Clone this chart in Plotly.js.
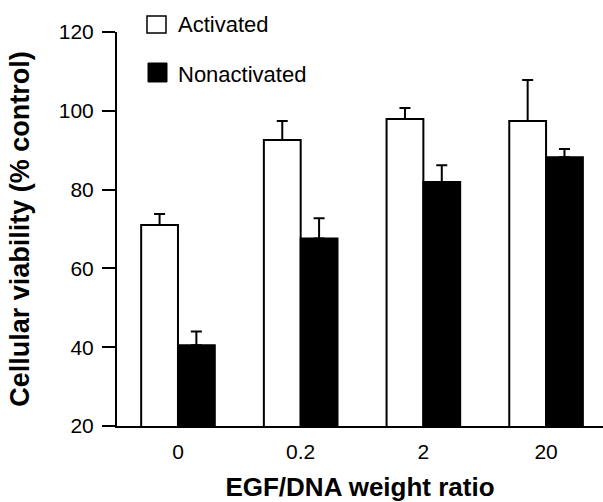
<!DOCTYPE html>
<html>
<head>
<meta charset="utf-8">
<script src="https://cdn.plot.ly/plotly-3.0.1.min.js"></script>
<style>html,body{margin:0;padding:0;background:#fff;}#chart{width:603px;height:502px;}</style>
</head>
<body>
<div id="chart"></div>
<script>
var categories = ["0", "0.2", "2", "20"];
var activated = [71.0, 92.6, 97.9, 97.4];
var activatedErr = [2.8, 4.8, 2.8, 10.4];
var nonactivated = [40.5, 67.6, 81.9, 88.2];
var nonactivatedErr = [3.5, 5.1, 4.3, 2.1];
var yTicks = [20, 40, 60, 80, 100, 120];
var legendNames = ["Activated", "Nonactivated"];

var FONT = "Arial, 'Liberation Sans', Helvetica, sans-serif";

var traces = [
  {
    type: "bar", name: legendNames[0], x: categories, y: activated,
    marker: {color: "#ffffff", line: {color: "#000000", width: 2}},
    error_y: {type: "data", array: activatedErr, arrayminus: activatedErr.map(function(){return 0;}), symmetric: false, color: "#000000", thickness: 2, width: 5.5},
    hoverinfo: "skip"
  },
  {
    type: "bar", name: legendNames[1], x: categories, y: nonactivated,
    marker: {color: "#000000", line: {color: "#000000", width: 2}},
    error_y: {type: "data", array: nonactivatedErr, arrayminus: nonactivatedErr.map(function(){return 0;}), symmetric: false, color: "#000000", thickness: 2, width: 5.5},
    hoverinfo: "skip"
  }
];

var layout = {
  width: 603, height: 502,
  margin: {l: 117, r: 0, t: 32, b: 76, pad: 0},
  paper_bgcolor: "#ffffff", plot_bgcolor: "#ffffff",
  font: {family: FONT, color: "#000000"},
  showlegend: false,
  barmode: "group", bargap: 0.4, bargroupgap: 0,
  xaxis: {
    type: "category", range: [-0.497, 3.464],
    showline: true, linecolor: "#000000", linewidth: 2,
    ticks: "", showgrid: false, zeroline: false,
    tickfont: {size: 21, family: FONT, color: "#000000"},
    ticklabelstandoff: 6,
    title: {text: "<b>EGF/DNA weight ratio</b>", font: {size: 26, family: FONT, color: "#000000"}, standoff: 16},
    automargin: false, fixedrange: true
  },
  yaxis: {
    range: [20, 120], tickvals: yTicks, ticktext: yTicks.map(String),
    showline: true, linecolor: "#000000", linewidth: 2,
    ticks: "outside", ticklen: 13, tickwidth: 2, tickcolor: "#000000",
    ticklabelstandoff: 4,
    showgrid: false, zeroline: false,
    tickfont: {size: 21, family: FONT, color: "#000000"},
    title: {text: "<b>Cellular viability (% control)</b>", font: {size: 27, family: FONT, color: "#000000"}, standoff: 21},
    automargin: false, fixedrange: true
  },
  shapes: [
    {type: "rect", xref: "paper", yref: "paper", x0: 0.0617, x1: 0.1008, y0: 0.9975, y1: 1.0406, line: {color: "#000000", width: 1.5}, fillcolor: "#ffffff"},
    {type: "rect", xref: "paper", yref: "paper", x0: 0.0638, x1: 0.1029, y0: 0.8731, y1: 0.9213, line: {color: "#000000", width: 1}, fillcolor: "#000000"}
  ],
  annotations: [
    {xref: "paper", yref: "paper", x: 0.1214, y: 1.019, xanchor: "left", yanchor: "middle", text: legendNames[0], showarrow: false, font: {size: 22, family: FONT, color: "#000000"}},
    {xref: "paper", yref: "paper", x: 0.1214, y: 0.8934, xanchor: "left", yanchor: "middle", text: legendNames[1], showarrow: false, font: {size: 22, family: FONT, color: "#000000"}}
  ]
};

Plotly.newPlot("chart", traces, layout, {displayModeBar: false, staticPlot: true});
</script>
</body>
</html>
